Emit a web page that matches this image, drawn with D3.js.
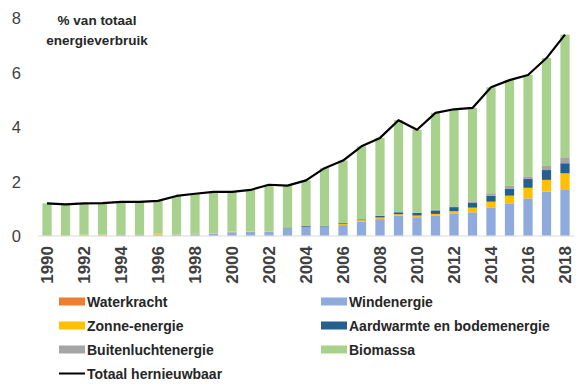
<!DOCTYPE html>
<html>
<head>
<meta charset="utf-8">
<script src="https://cdn.jsdelivr.net/npm/d3@7"></script>
<style>
  html, body { margin: 0; padding: 0; background: #fff; }
  svg { display: block; }
</style>
</head>
<body>
<svg id="chart" width="588" height="392"></svg>
<script>
const years = d3.range(1990, 2019);
const tickYears = [1990,1992,1994,1996,1998,2000,2002,2004,2006,2008,2010,2012,2014,2016,2018];
const yTicks = [0, 2, 4, 6, 8];

const waterkracht = [0.01,0.01,0.01,0.01,0.01,0.01,0.01,0.01,0.01,0.01,0.01,0.01,0.01,0.01,0.01,0.01,0.01,0.01,0.01,0.01,0.01,0.01,0.01,0.01,0.01,0.01,0.01,0.01,0.01];
const windenergie = [0.01,0.01,0.01,0.01,0.03,0.03,0.04,0.04,0.05,0.07,0.13,0.14,0.15,0.26,0.32,0.33,0.39,0.52,0.61,0.74,0.68,0.73,0.80,0.86,1.04,1.19,1.37,1.62,1.68];
const zonne = [0.00,0.00,0.03,0.03,0.00,0.00,0.05,0.01,0.01,0.01,0.02,0.02,0.02,0.01,0.01,0.01,0.04,0.05,0.06,0.05,0.06,0.07,0.10,0.17,0.21,0.28,0.39,0.43,0.61];
const aardwarmte = [0,0,0,0,0,0,0,0,0,0,0,0,0,0.03,0.03,0.03,0.03,0.03,0.06,0.07,0.10,0.13,0.15,0.17,0.22,0.26,0.32,0.36,0.37];
const buitenlucht = [0,0,0,0,0,0,0,0,0.01,0,0,0,0,0,0,0,0,0,0,0.01,0.01,0.02,0.03,0.04,0.09,0.10,0.10,0.15,0.22];
const biomassa = [1.18,1.14,1.15,1.16,1.21,1.21,1.19,1.41,1.47,1.53,1.46,1.52,1.70,1.54,1.67,2.11,2.30,2.68,2.86,3.37,3.04,3.56,3.56,3.45,3.89,3.88,3.72,3.96,4.50];
const totaal = [1.20,1.16,1.20,1.21,1.25,1.25,1.29,1.47,1.55,1.62,1.62,1.69,1.88,1.85,2.04,2.49,2.77,3.29,3.60,4.25,3.90,4.52,4.65,4.70,5.46,5.72,5.91,6.53,7.39];

const series = [
  { key: "Waterkracht", values: waterkracht, color: "#ED7D31" },
  { key: "Windenergie", values: windenergie, color: "#8FAADC" },
  { key: "Zonne-energie", values: zonne, color: "#FFC000" },
  { key: "Aardwarmte en bodemenergie", values: aardwarmte, color: "#255E91" },
  { key: "Buitenluchtenergie", values: buitenlucht, color: "#A5A5A5" },
  { key: "Biomassa", values: biomassa, color: "#A9D18E" }
];

const rows = years.map((y, i) => {
  const r = { year: y };
  series.forEach(s => r[s.key] = s.values[i]);
  return r;
});

const svg = d3.select("#chart");
const fontFam = "'Liberation Sans', Arial, sans-serif";

const x = d3.scaleBand().domain(years).range([37.75, 574.25]).paddingInner(0.5).paddingOuter(0.25);
const y = d3.scaleLinear().domain([0, 8]).range([236, 18]);

const stack = d3.stack().keys(series.map(s => s.key));
const stacked = stack(rows);

svg.append("g").selectAll("g").data(stacked).join("g")
  .attr("fill", (d, i) => series[i].color)
  .selectAll("rect").data(d => d).join("rect")
  .attr("x", d => x(d.data.year))
  .attr("width", x.bandwidth())
  .attr("y", d => y(d[1]))
  .attr("height", d => Math.max(0, y(d[0]) - y(d[1])));

// baseline
svg.append("line")
  .attr("x1", 37.75).attr("x2", 574.25)
  .attr("y1", y(0)).attr("y2", y(0))
  .attr("stroke", "#d9d9d9").attr("stroke-width", 1);

// total line
const line = d3.line()
  .x((d, i) => x(years[i]) + x.bandwidth() / 2)
  .y(d => y(d));
svg.append("path").datum(totaal)
  .attr("d", line).attr("fill", "none")
  .attr("stroke", "#000").attr("stroke-width", 2.2)
  .attr("stroke-linejoin", "round");

// y axis labels
const yAxis = d3.axisLeft(y).tickValues(yTicks).tickSize(0).tickPadding(0);
const yg = svg.append("g").attr("transform", "translate(21,0)").call(yAxis);
yg.select(".domain").remove();
yg.selectAll("text")
  .attr("font-family", fontFam).attr("font-size", 16.5)
  .attr("fill", "#404040").attr("dy", "0.36em");

// x axis labels
const xAxis = d3.axisBottom(x).tickValues(tickYears).tickSize(0).tickPadding(0);
const xg = svg.append("g").attr("transform", "translate(0,246)").call(xAxis);
xg.select(".domain").remove();
xg.selectAll("text")
  .attr("font-family", fontFam).attr("font-size", 17).attr("font-weight", "bold")
  .attr("fill", "#404040")
  .attr("transform", "rotate(-90)")
  .attr("text-anchor", "end")
  .attr("x", 0).attr("y", 0).attr("dy", "0.36em");

// y title
const title = svg.append("text")
  .attr("font-family", fontFam).attr("font-size", 13.5).attr("font-weight", "bold")
  .attr("fill", "#262626").attr("text-anchor", "middle");
title.append("tspan").attr("x", 97).attr("y", 25).text("% van totaal");
title.append("tspan").attr("x", 97).attr("y", 45).text("energieverbruik");

// legend
const legendItems = [
  { key: "Waterkracht", col: 0, row: 0 },
  { key: "Windenergie", col: 1, row: 0 },
  { key: "Zonne-energie", col: 0, row: 1 },
  { key: "Aardwarmte en bodemenergie", col: 1, row: 1 },
  { key: "Buitenluchtenergie", col: 0, row: 2 },
  { key: "Biomassa", col: 1, row: 2 },
  { key: "Totaal hernieuwbaar", col: 0, row: 3, line: true }
];
const colX = [59, 321];
const rowY = [301.5, 325.5, 349.5, 373.5];
const lg = svg.append("g");
legendItems.forEach(it => {
  const gx = colX[it.col], gy = rowY[it.row];
  if (it.line) {
    lg.append("line").attr("x1", gx).attr("x2", gx + 26)
      .attr("y1", gy).attr("y2", gy).attr("stroke", "#000").attr("stroke-width", 2);
  } else {
    const s = series.find(s => s.key === it.key);
    lg.append("rect").attr("x", gx).attr("y", gy - 4).attr("width", 26).attr("height", 8)
      .attr("fill", s.color);
  }
  lg.append("text").attr("x", gx + 28).attr("y", gy).attr("dy", "0.36em")
    .attr("font-family", fontFam).attr("font-size", 14).attr("font-weight", "bold")
    .attr("fill", "#262626").text(it.key);
});
</script>
</body>
</html>
